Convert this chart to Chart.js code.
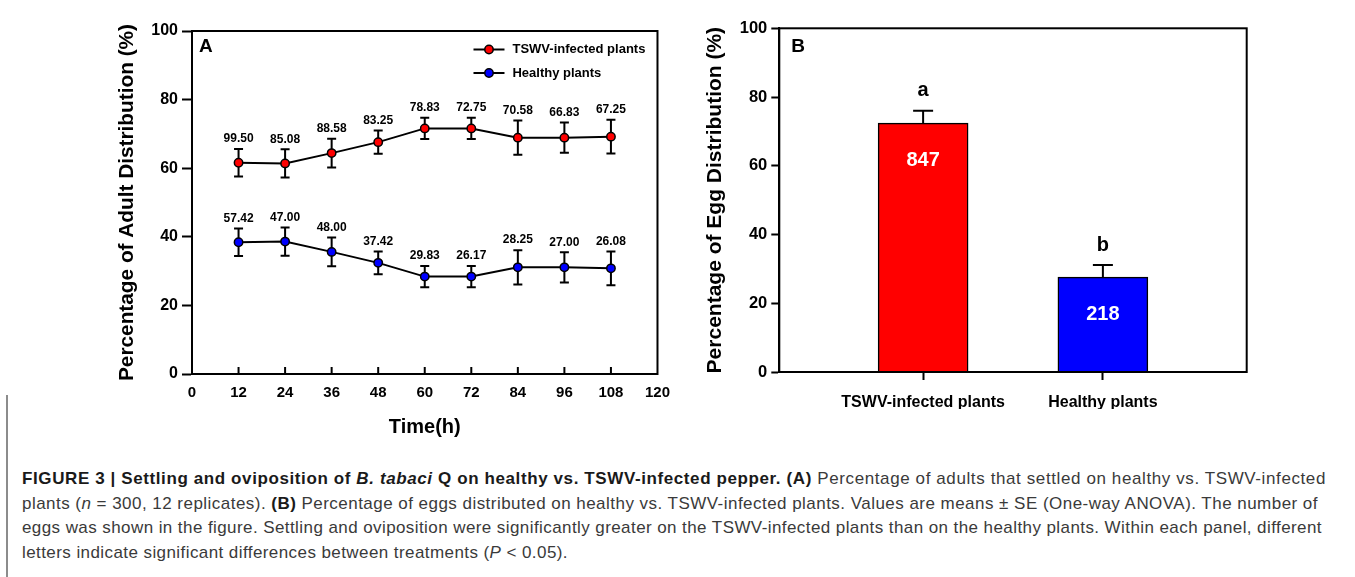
<!DOCTYPE html>
<html>
<head>
<meta charset="utf-8">
<script src="https://cdn.jsdelivr.net/npm/chart.js@4.4.0/dist/chart.umd.min.js"></script>
<style>
  body { margin: 0; background: #fff; width: 1355px; height: 577px; overflow: hidden; position: relative;
         font-family: "Liberation Sans", Arial, sans-serif; }
  #chartA { position: absolute; left: 0; top: 0; }
  #chartB { position: absolute; left: 680px; top: 0; }
  #edge { position: absolute; left: 6px; top: 395px; width: 1.5px; height: 182px; background: #8c8c8c; }
  #caption { position: absolute; left: 22px; top: 467px; font-size: 17px; line-height: 24.7px; color: #3a3a3a; }
  #caption div { white-space: nowrap; }
  #caption span.ln { display: inline-block; }
  #caption b { color: #1a1a1a; }
</style>
</head>
<body>
<canvas id="chartA" width="680" height="440"></canvas>
<canvas id="chartB" width="675" height="409"></canvas>
<div id="edge"></div>
<div id="caption">
  <div data-w="1304"><span class="ln"><b>FIGURE 3 | Settling and oviposition of <i>B. tabaci</i> Q on healthy vs. TSWV-infected pepper. (A)</b> Percentage of adults that settled on healthy vs. TSWV-infected</span></div>
  <div data-w="1296"><span class="ln">plants (<i>n</i> = 300, 12 replicates). <b>(B)</b> Percentage of eggs distributed on healthy vs. TSWV-infected plants. Values are means ± SE (One-way ANOVA). The number of</span></div>
  <div data-w="1300"><span class="ln">eggs was shown in the figure. Settling and oviposition were significantly greater on the TSWV-infected plants than on the healthy plants. Within each panel, different</span></div>
  <div data-w="546"><span class="ln">letters indicate significant differences between treatments (<i>P</i> &lt; 0.05).</span></div>
</div>
<script>
// Panel A: adult distribution over time
const hours = [12, 24, 36, 48, 60, 72, 84, 96, 108];
const infectedMean = [61.6, 61.4, 64.4, 67.6, 71.6, 71.6, 68.9, 68.9, 69.2];
const infectedSE   = [4.0, 4.1, 4.2, 3.4, 3.1, 3.1, 5.0, 4.4, 4.9];
const healthyMean  = [38.4, 38.6, 35.6, 32.4, 28.4, 28.4, 31.1, 31.1, 30.8];
const healthySE    = [4.0, 4.1, 4.2, 3.3, 3.1, 3.1, 5.0, 4.4, 4.9];
const infectedCounts = ['99.50', '85.08', '88.58', '83.25', '78.83', '72.75', '70.58', '66.83', '67.25'];
const healthyCounts  = ['57.42', '47.00', '48.00', '37.42', '29.83', '26.17', '28.25', '27.00', '26.08'];

// Panel B: egg distribution
const groupsB = ['TSWV-infected plants', 'Healthy plants'];
const eggMean = [72.4, 27.6];
const eggSE = [3.6, 3.5];
const eggCounts = ['847', '218'];
const eggLetters = ['a', 'b'];

const FONT = '"Liberation Sans", Arial, sans-serif';
const bold = (size) => ({ family: FONT, size: size, weight: 'bold' });

function drawBox(chart) {
    const { ctx, chartArea: a } = chart;
    ctx.save();
    ctx.strokeStyle = '#000';
    ctx.lineWidth = 2;
    ctx.strokeRect(a.left, a.top, a.right - a.left, a.bottom - a.top);
    ctx.restore();
}

const panelAPlugin = {
    id: 'panelA',
    beforeDatasetsDraw(chart) {
        const { ctx } = chart;
        const xs = chart.scales.x, ys = chart.scales.y;
        ctx.save();
        ctx.strokeStyle = '#000';
        ctx.lineWidth = 2;
        chart.data.datasets.forEach(ds => {
            ds.se.forEach((e, i) => {
                const m = ds.data[i].y;
                const px = xs.getPixelForValue(ds.data[i].x);
                const top = ys.getPixelForValue(m + e), bot = ys.getPixelForValue(m - e);
                ctx.beginPath();
                ctx.moveTo(px, top); ctx.lineTo(px, bot);
                ctx.moveTo(px - 4.5, top); ctx.lineTo(px + 4.5, top);
                ctx.moveTo(px - 4.5, bot); ctx.lineTo(px + 4.5, bot);
                ctx.stroke();
            });
        });
        ctx.restore();
    },
    afterDraw(chart) {
        const { ctx, chartArea: a } = chart;
        const xs = chart.scales.x, ys = chart.scales.y;
        drawBox(chart);
        ctx.save();
        // inward x ticks
        ctx.strokeStyle = '#000';
        ctx.lineWidth = 2;
        xs.ticks.forEach(t => {
            if (t.value <= xs.min || t.value >= xs.max) return;
            const px = xs.getPixelForValue(t.value);
            ctx.beginPath(); ctx.moveTo(px, a.bottom); ctx.lineTo(px, a.bottom - 7); ctx.stroke();
        });
        // count labels above error bars
        ctx.fillStyle = '#000';
        ctx.font = 'bold 12px ' + FONT;
        ctx.textAlign = 'center';
        ctx.textBaseline = 'middle';
        chart.data.datasets.forEach(ds => {
            ds.counts.forEach((c, i) => {
                const px = xs.getPixelForValue(ds.data[i].x);
                const top = ys.getPixelForValue(ds.data[i].y + ds.se[i]);
                ctx.fillText(c, px, top - 10);
            });
        });
        // panel letter
        ctx.font = 'bold 19px ' + FONT;
        ctx.textAlign = 'left';
        ctx.fillText('A', a.left + 7, a.top + 16);
        // legend
        ctx.font = 'bold 13px ' + FONT;
        chart.data.datasets.forEach((ds, i) => {
            const ly = a.top + 18.5 + i * 23.5;
            const lx = a.right - 184;
            ctx.beginPath(); ctx.moveTo(lx, ly); ctx.lineTo(lx + 31, ly); ctx.stroke();
            ctx.beginPath(); ctx.arc(lx + 15.5, ly, 4.2, 0, Math.PI * 2);
            ctx.fillStyle = ds.pointBackgroundColor; ctx.fill();
            ctx.lineWidth = 1.5; ctx.stroke(); ctx.lineWidth = 2;
            ctx.fillStyle = '#000';
            ctx.fillText(ds.label, lx + 39, ly);
        });
        ctx.restore();
    }
};

new Chart(document.getElementById('chartA'), {
    type: 'line',
    data: {
        datasets: [
            {
                label: 'TSWV-infected plants',
                data: hours.map((h, i) => ({ x: h, y: infectedMean[i] })),
                se: infectedSE, counts: infectedCounts,
                borderColor: '#000', borderWidth: 2,
                pointBackgroundColor: '#ff0000', pointBorderColor: '#000',
                pointBorderWidth: 1.5, pointRadius: 4.2, tension: 0
            },
            {
                label: 'Healthy plants',
                data: hours.map((h, i) => ({ x: h, y: healthyMean[i] })),
                se: healthySE, counts: healthyCounts,
                borderColor: '#000', borderWidth: 2,
                pointBackgroundColor: '#0000ff', pointBorderColor: '#000',
                pointBorderWidth: 1.5, pointRadius: 4.2, tension: 0
            }
        ]
    },
    options: {
        responsive: false,
        animation: false,
        layout: { padding: { left: 110, top: 31, right: 22, bottom: 0 } },
        plugins: { legend: { display: false }, tooltip: { enabled: false } },
        scales: {
            x: {
                type: 'linear', min: 0, max: 120,
                ticks: { stepSize: 12, color: '#000', font: bold(15), padding: 10 },
                grid: { drawOnChartArea: false, drawTicks: false },
                border: { color: '#000', width: 2 },
                title: { display: true, text: 'Time(h)', color: '#000', font: bold(20), padding: { top: 0, bottom: 1 } },
                afterFit: (s) => { s.height = 66; }
            },
            y: {
                min: 0, max: 100,
                ticks: { stepSize: 20, color: '#000', font: bold(16), padding: 4 },
                grid: { drawOnChartArea: false, tickLength: 10, tickColor: '#000', tickWidth: 2 },
                border: { color: '#000', width: 2 },
                title: { display: true, text: 'Percentage of Adult Distribution (%)', color: '#000', font: bold(20.8), padding: { top: 4.5, bottom: 0 } },
                afterFit: (s) => { s.width = 82; }
            }
        }
    },
    plugins: [panelAPlugin]
});

const panelBPlugin = {
    id: 'panelB',
    beforeDatasetsDraw(chart) {
        const { ctx } = chart;
        const xs = chart.scales.x, ys = chart.scales.y;
        ctx.save();
        ctx.strokeStyle = '#000';
        ctx.lineWidth = 2;
        eggMean.forEach((m, i) => {
            const px = xs.getPixelForValue(i + 1);
            const top = ys.getPixelForValue(m + eggSE[i]);
            ctx.beginPath();
            ctx.moveTo(px, ys.getPixelForValue(m)); ctx.lineTo(px, top);
            ctx.moveTo(px - 10, top); ctx.lineTo(px + 10, top);
            ctx.stroke();
        });
        ctx.restore();
    },
    afterDraw(chart) {
        const { ctx, chartArea: a } = chart;
        const xs = chart.scales.x, ys = chart.scales.y;
        drawBox(chart);
        ctx.save();
        ctx.textAlign = 'center';
        ctx.textBaseline = 'middle';
        eggMean.forEach((m, i) => {
            const px = xs.getPixelForValue(i + 1);
            ctx.fillStyle = '#000';
            ctx.font = 'bold 20px ' + FONT;
            ctx.fillText(eggLetters[i], px, ys.getPixelForValue(m + eggSE[i]) - 20);
            ctx.fillStyle = '#fff';
            ctx.fillText(eggCounts[i], px, ys.getPixelForValue(m) + 37);
        });
        ctx.fillStyle = '#000';
        ctx.font = 'bold 19px ' + FONT;
        ctx.textAlign = 'left';
        ctx.fillText('B', a.left + 12, a.top + 18);
        ctx.restore();
    }
};

new Chart(document.getElementById('chartB'), {
    type: 'bar',
    data: {
        datasets: [{
            data: groupsB.map((g, i) => ({ x: i + 1, y: eggMean[i] })),
            backgroundColor: ['#ff0000', '#0000ff'],
            borderColor: '#000', borderWidth: 1.5,
            barThickness: 90
        }]
    },
    options: {
        responsive: false,
        animation: false,
        layout: { padding: { left: 20, top: 28.3, right: 108.3, bottom: 0 } },
        plugins: { legend: { display: false }, tooltip: { enabled: false } },
        scales: {
            x: {
                type: 'linear', min: 0.2, max: 2.8, offset: false,
                afterBuildTicks: (s) => { s.ticks = groupsB.map((g, i) => ({ value: i + 1 })); },
                ticks: { color: '#000', font: bold(16), padding: 13.4, callback: (v) => groupsB[v - 1] },
                grid: { offset: false, drawOnChartArea: false, tickLength: 8, tickColor: '#000', tickWidth: 2 },
                border: { color: '#000', width: 2 },
                afterFit: (s) => { s.height = 37; }
            },
            y: {
                min: 0, max: 100,
                ticks: { stepSize: 20, color: '#000', font: bold(16.5), padding: 4 },
                grid: { drawOnChartArea: false, tickLength: 8, tickColor: '#000', tickWidth: 2 },
                border: { color: '#000', width: 2 },
                title: { display: true, text: 'Percentage of Egg Distribution (%)', color: '#000', font: bold(21), padding: { top: 2.4, bottom: 0 } },
                afterFit: (s) => { s.width = 79.3; }
            }
        }
    },
    plugins: [panelBPlugin]
});

// stretch caption lines to the widths they have in the figure
document.querySelectorAll('#caption div').forEach(div => {
    const span = div.querySelector('span');
    const natural = span.getBoundingClientRect().width;
    const chars = span.textContent.length;
    span.style.letterSpacing = ((+div.dataset.w - natural) / chars) + 'px';
});
</script>
</body>
</html>
